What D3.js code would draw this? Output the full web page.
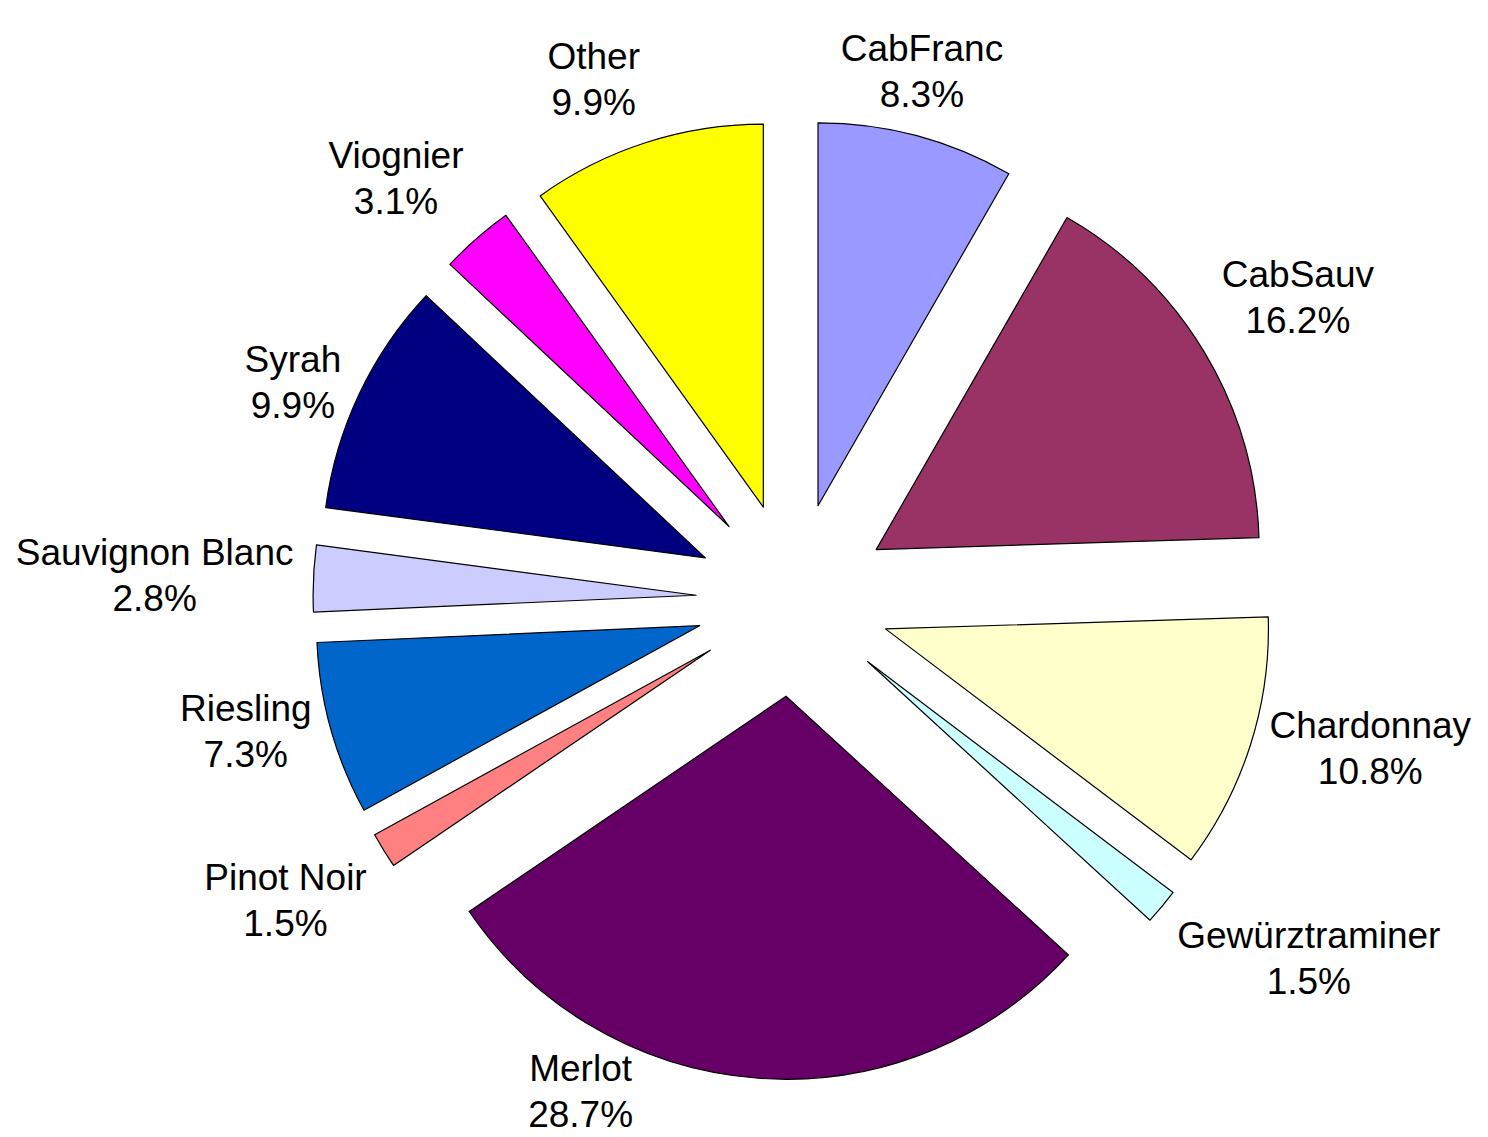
<!DOCTYPE html>
<html>
<head>
<meta charset="utf-8">
<script src="https://cdn.jsdelivr.net/npm/d3@7"></script>
<style>
  body { margin: 0; background: #fff; }
  text { font-family: "Liberation Sans", Arial, sans-serif; }
</style>
</head>
<body>
<div id="chart"></div>
<script>
// grape varieties, clockwise from 12 o'clock
var varieties = ["CabFranc", "CabSauv", "Chardonnay", "Gewürztraminer", "Merlot",
    "Pinot Noir", "Riesling", "Sauvignon Blanc", "Syrah", "Viognier", "Other"];
var shares = [8.3, 16.2, 10.8, 1.5, 28.7, 1.5, 7.3, 2.8, 9.9, 3.1, 9.9];
var sliceColors = ["#9999ff", "#993366", "#ffffcc", "#ccffff", "#660066",
    "#ff8080", "#0066cc", "#ccccff", "#000080", "#ff00ff", "#ffff00"];

(function() {
    var width = 1488,
        height = 1137;

    var cx = 793, cy = 599.5,
        radius = 383,
        explode = 97,       // how far every slice is pulled out
        labelDist = 500,    // distance of the label anchor from the centre
        fontSize = 37,
        lineGap = 46;

    var svg = d3.select("#chart")
        .append("svg")
        .attr("width", width)
        .attr("height", height);

    var g = svg.append("g")
        .attr("transform", "translate(" + cx + "," + cy + ")");

    var data = varieties.map(function(name, i) {
        return { name: name, share: shares[i], color: sliceColors[i] };
    });

    var pie = d3.pie()
        .sort(null)
        .value(function(d) { return d.share; });

    var arc = d3.arc()
        .innerRadius(0)
        .outerRadius(radius);

    var arcs = pie(data);

    function mid(d) { return (d.startAngle + d.endAngle) / 2; }

    g.selectAll(".slice")
        .data(arcs)
        .enter()
        .append("path")
            .attr("class", "slice")
            .attr("transform", function(d) {
                var a = mid(d);
                return "translate(" + (explode * Math.sin(a)) + "," + (-explode * Math.cos(a)) + ")";
            })
            .attr("d", arc)
            .attr("fill", function(d) { return d.data.color; })
            .attr("stroke", "#000")
            .attr("stroke-width", 1.2)
            .attr("stroke-linejoin", "round");

    // which side of the box touches the anchor, in 8 sectors
    // [fraction of box left of anchor, fraction of box above anchor]
    var sectorAlign = [[0.5, 1], [0, 1], [0, 0.5], [0, 0], [0.5, 0], [1, 0], [1, 0.5], [1, 1]];

    var labels = g.selectAll(".label")
        .data(arcs)
        .enter()
        .append("text")
            .attr("class", "label")
            .attr("font-size", fontSize)
            .attr("text-anchor", "middle")
            .attr("fill", "#000");

    labels.append("tspan")
        .attr("class", "l1")
        .text(function(d) { return d.data.name; });
    labels.append("tspan")
        .attr("class", "l2")
        .text(function(d) { return d3.format(".1f")(d.data.share) + "%"; });

    labels.each(function(d) {
        var t = d3.select(this);
        var w = Math.max(t.select(".l1").node().getComputedTextLength(),
                         t.select(".l2").node().getComputedTextLength());
        var top = 29, h = top + lineGap + 9;
        var deg = mid(d) * 180 / Math.PI;
        var al = sectorAlign[Math.floor(deg / 45 + 0.39) % 8];
        var a = mid(d), x0, y0;
        // move the label round the circle until it stays on the page
        for (var k = 0; k < 120; k++) {
            var ax = labelDist * Math.sin(a), ay = -labelDist * Math.cos(a);
            x0 = ax - al[0] * w;
            y0 = ay - al[1] * h;
            if (cy + y0 + h <= height && cy + y0 >= 0) break;
            a += Math.PI / 360;
        }
        var xc = x0 + w / 2;
        t.select(".l1").attr("x", xc).attr("y", y0 + top);
        t.select(".l2").attr("x", xc).attr("y", y0 + top + lineGap);
    });
})();
</script>
</body>
</html>
